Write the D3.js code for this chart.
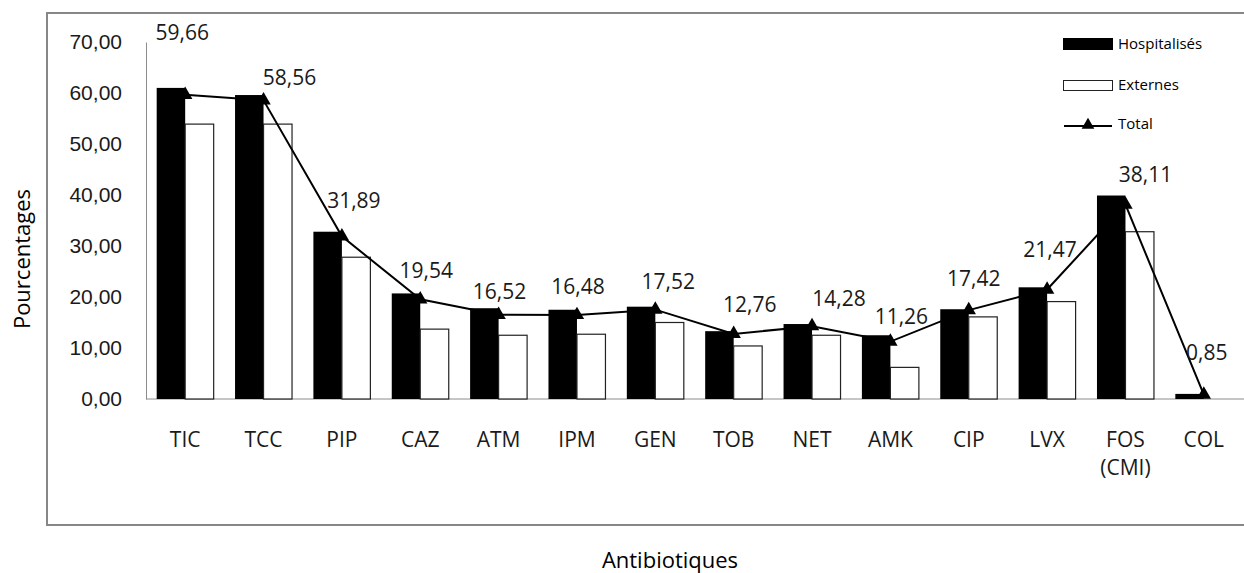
<!DOCTYPE html>
<html lang="fr">
<head>
    <meta charset="UTF-8">
    <title>Antibiotiques</title>
    <script src="https://d3js.org/d3.v7.min.js"></script>
    <style>
        body { margin: 0; background: #fff; }
        svg { display: block; font-family: "Open Sans", sans-serif; }
        .tick-label { font-size: 21px; fill: #1a1a1a; }
        .axis-title { font-size: 22px; fill: #000; }
        .legend-text { font-size: 15px; fill: #000; }
    </style>
</head>
<body>
<div id="chart"></div>
<script>
// données
const categories = ["TIC", "TCC", "PIP", "CAZ", "ATM", "IPM", "GEN", "TOB", "NET", "AMK", "CIP", "LVX", "FOS\n(CMI)", "COL"];
const hospitalises = [61.0, 59.6, 32.8, 20.7, 17.8, 17.5, 18.1, 13.3, 14.7, 12.5, 17.6, 21.9, 39.9, 1.0];
const externes = [53.9, 53.9, 27.8, 13.7, 12.5, 12.7, 15.0, 10.4, 12.5, 6.2, 16.1, 19.1, 32.8, 0];
const total = [59.66, 58.56, 31.89, 19.54, 16.52, 16.48, 17.52, 12.76, 14.28, 11.26, 17.42, 21.47, 38.11, 0.85];
const yTicks = [0, 10, 20, 30, 40, 50, 60, 70];

// décalage des étiquettes (comme dans Excel)
const labelNudge = [[-3, -62], [26, -23], [12, -36], [6, -29], [1, -23], [1, -28], [13, -28],
                    [16, -29], [27, -28], [11, -25], [5, -32], [3, -40], [20, -30], [3, -42]];

const W = 1244, H = 573;
const plot = {left: 146, right: 1243, top: 42, bottom: 399};

const svg = d3.select("#chart").append("svg")
    .attr("width", W)
    .attr("height", H);

// cadre extérieur
svg.append("rect")
    .attr("x", 47).attr("y", 13)
    .attr("width", W - 47 + 10).attr("height", 512)
    .attr("fill", "none")
    .attr("stroke", "#878787")
    .attr("stroke-width", 2);

const x = d3.scaleBand()
    .domain(categories)
    .range([plot.left, plot.right])
    .padding(0);

const xSub = d3.scaleBand()
    .domain(["hosp", "ext"])
    .range([0, x.bandwidth()])
    .paddingInner(0)
    .paddingOuter(0.375);

const y = d3.scaleLinear()
    .domain([0, 70])
    .range([plot.bottom, plot.top]);

// axe Y
const yAxis = svg.append("g")
    .attr("transform", `translate(${plot.left},0)`)
    .call(d3.axisLeft(y).tickValues(yTicks).tickSize(0).tickPadding(24)
        .tickFormat(d => d3.format(".2f")(d).replace(".", ",")));
yAxis.select(".domain").attr("stroke", "#8c8c8c");
yAxis.selectAll("text").attr("class", "tick-label").attr("font-family", null).attr("font-size", null);

// ligne de base
svg.append("line")
    .attr("x1", plot.left).attr("x2", W)
    .attr("y1", plot.bottom).attr("y2", plot.bottom)
    .attr("stroke", "#8c8c8c");

// étiquettes des catégories
const catLabels = svg.append("g").selectAll("text")
    .data(categories)
    .join("text")
    .attr("class", "tick-label")
    .attr("text-anchor", "middle")
    .attr("x", d => x(d) + x.bandwidth() / 2)
    .attr("y", plot.bottom + 48);
catLabels.each(function(d) {
    const t = d3.select(this);
    d.split("\n").forEach((line, i) => {
        t.append("tspan")
            .attr("x", x(d) + x.bandwidth() / 2)
            .attr("dy", i === 0 ? 0 : 28)
            .text(line);
    });
});

// barres
const groups = svg.append("g").selectAll("g")
    .data(categories)
    .join("g")
    .attr("transform", d => `translate(${x(d)},0)`);

groups.append("rect")
    .attr("x", xSub("hosp"))
    .attr("width", xSub.bandwidth())
    .attr("y", (d, i) => y(hospitalises[i]))
    .attr("height", (d, i) => y(0) - y(hospitalises[i]))
    .attr("fill", "#000");

groups.filter((d, i) => externes[i] > 0).append("rect")
    .attr("x", xSub("ext"))
    .attr("width", xSub.bandwidth())
    .attr("y", (d, i) => y(externes[categories.indexOf(d)]))
    .attr("height", d => y(0) - y(externes[categories.indexOf(d)]))
    .attr("fill", "#fff")
    .attr("stroke", "#222")
    .attr("stroke-width", 1.2);

// courbe Total
const cx = (d, i) => x(categories[i]) + x.bandwidth() / 2;
svg.append("path")
    .datum(total)
    .attr("fill", "none")
    .attr("stroke", "#000")
    .attr("stroke-width", 2)
    .attr("d", d3.line().x(cx).y(d => y(d)));

const tri = d3.symbol().type(d3.symbolTriangle).size(90);
svg.append("g").selectAll("path")
    .data(total)
    .join("path")
    .attr("d", tri)
    .attr("transform", (d, i) => `translate(${cx(d, i)},${y(d)})`)
    .attr("fill", "#000");

// étiquettes de valeurs
svg.append("g").selectAll("text")
    .data(total)
    .join("text")
    .attr("class", "tick-label")
    .attr("text-anchor", "middle")
    .attr("dy", "0.35em")
    .attr("x", (d, i) => cx(d, i) + labelNudge[i][0])
    .attr("y", (d, i) => y(d) + labelNudge[i][1])
    .text(d => d3.format(".2f")(d).replace(".", ","));

// titres des axes
svg.append("text")
    .attr("class", "axis-title")
    .attr("text-anchor", "middle")
    .attr("transform", "translate(30,259) rotate(-90)")
    .text("Pourcentages");

svg.append("text")
    .attr("class", "axis-title")
    .attr("text-anchor", "middle")
    .attr("x", 670)
    .attr("y", 568)
    .text("Antibiotiques");

// légende
const legend = svg.append("g").attr("transform", "translate(1063,0)");
legend.append("rect")
    .attr("x", 0).attr("y", 38).attr("width", 50).attr("height", 12)
    .attr("fill", "#000");
legend.append("text").attr("class", "legend-text")
    .attr("x", 55).attr("y", 44).attr("dy", "0.35em").text("Hospitalisés");

legend.append("rect")
    .attr("x", 0.5).attr("y", 80.5).attr("width", 49).attr("height", 10)
    .attr("fill", "#fff").attr("stroke", "#222");
legend.append("text").attr("class", "legend-text")
    .attr("x", 55).attr("y", 85).attr("dy", "0.35em").text("Externes");

legend.append("line")
    .attr("x1", 1).attr("x2", 49).attr("y1", 126).attr("y2", 126)
    .attr("stroke", "#000").attr("stroke-width", 2);
legend.append("path")
    .attr("d", d3.symbol().type(d3.symbolTriangle).size(70))
    .attr("transform", "translate(25,125)");
legend.append("text").attr("class", "legend-text")
    .attr("x", 55).attr("y", 124).attr("dy", "0.35em").text("Total");
</script>
</body>
</html>
